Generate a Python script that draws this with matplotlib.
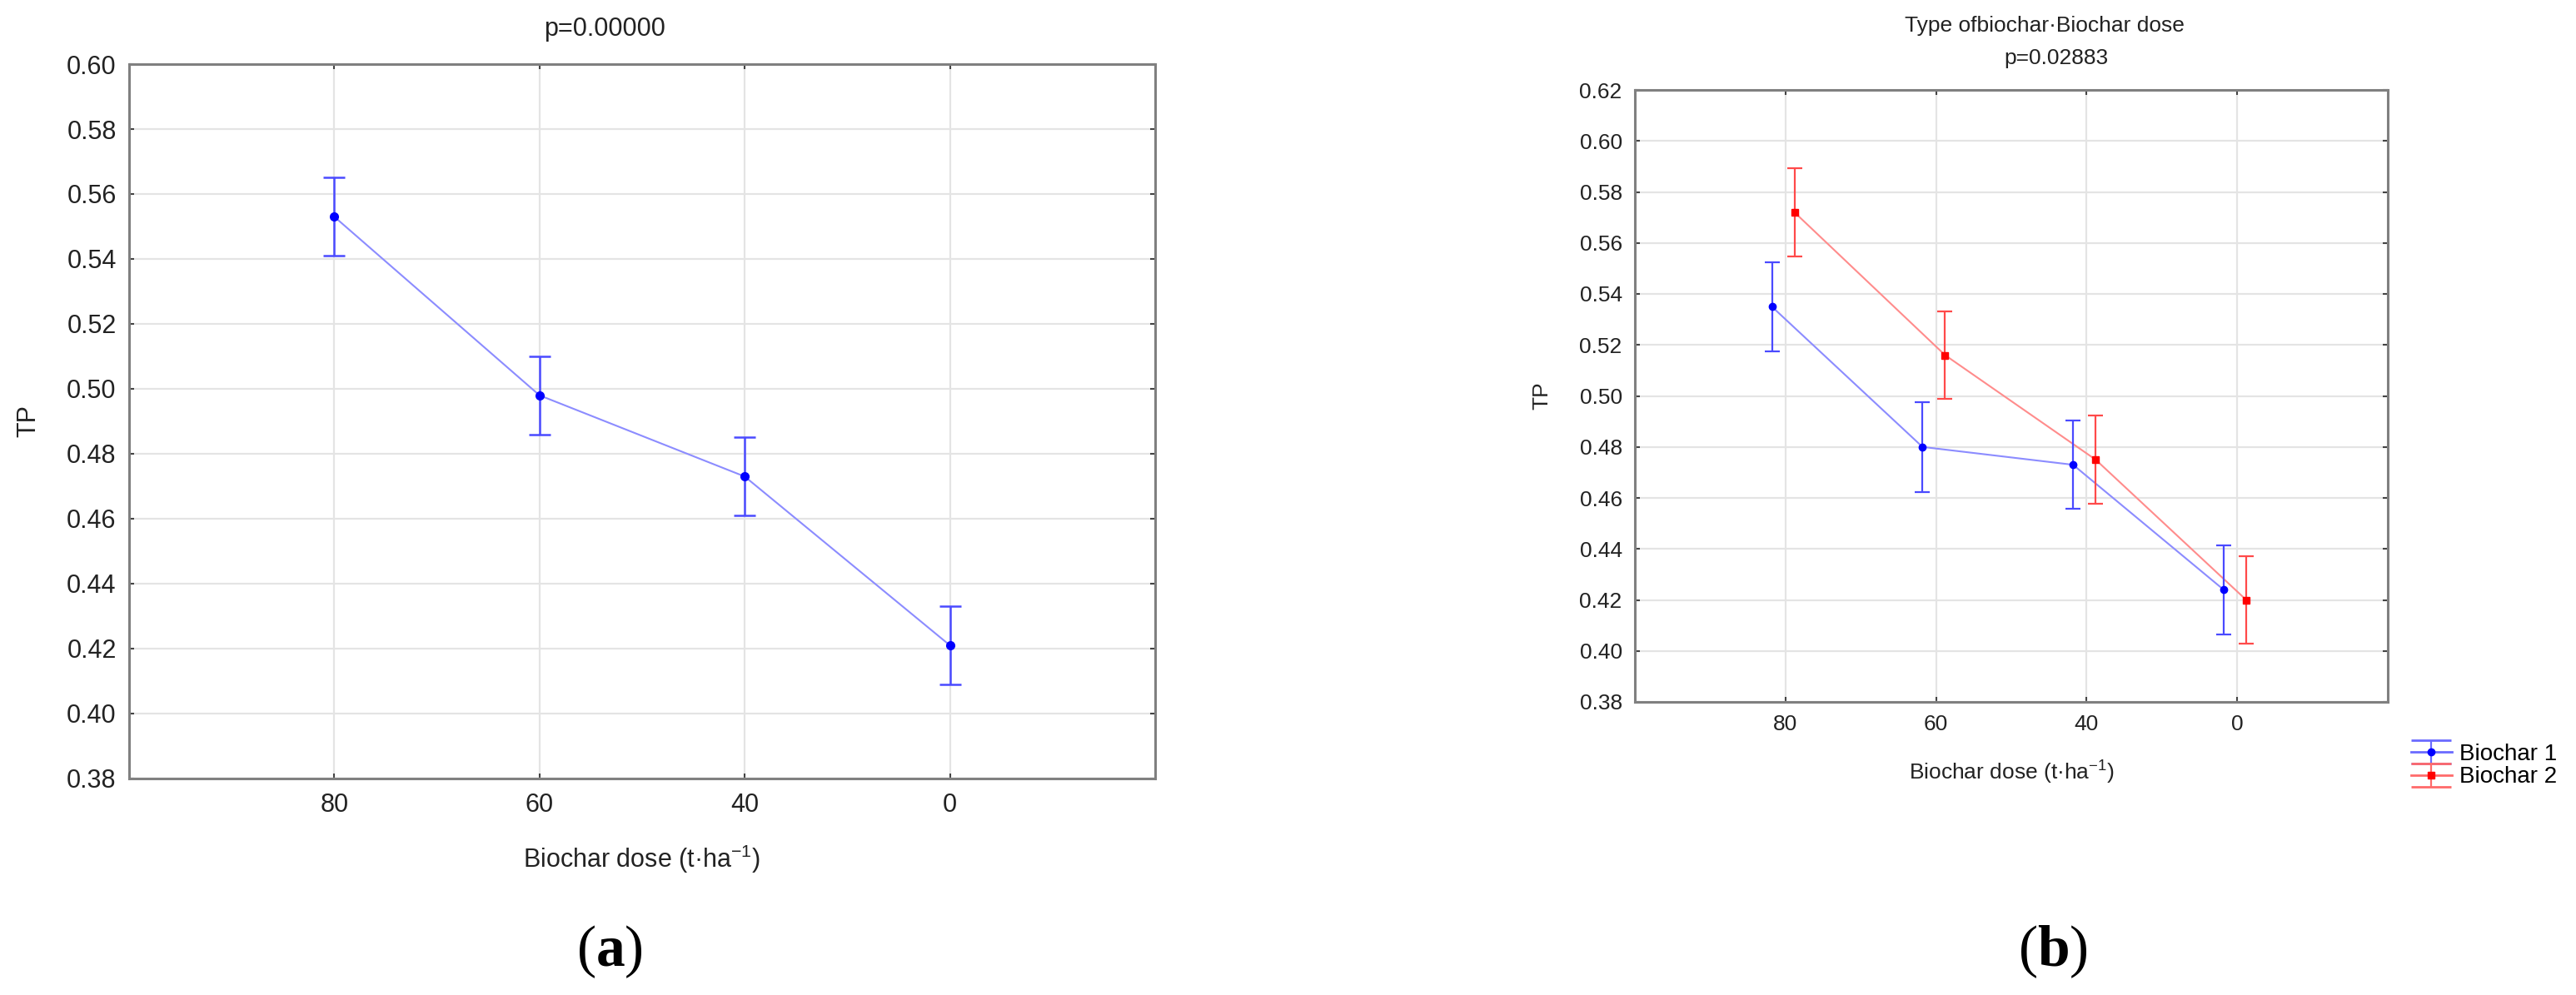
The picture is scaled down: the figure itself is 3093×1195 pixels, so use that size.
import numpy as np
import matplotlib
matplotlib.use("Agg")
import matplotlib.pyplot as plt

# --- data ---
dose_labels = ["80", "60", "40", "0"]

# (a) main effect of biochar dose
tp_a = [0.553, 0.498, 0.473, 0.421]
err_a = [0.012, 0.012, 0.012, 0.012]

# (b) type of biochar x biochar dose
tp_b1 = [0.535, 0.480, 0.473, 0.424]
err_b1 = [0.0175, 0.0177, 0.0174, 0.0175]
tp_b2 = [0.572, 0.516, 0.475, 0.420]
err_b2 = [0.0172, 0.0172, 0.0173, 0.0172]

series_names = ["Biochar 1", "Biochar 2"]

plt.rcParams['font.family'] = ['Liberation Sans', 'DejaVu Sans']
plt.rcParams['mathtext.fontset'] = 'custom'
plt.rcParams['mathtext.rm'] = 'Liberation Sans'
plt.rcParams['mathtext.it'] = 'Liberation Sans:italic'
plt.rcParams['mathtext.bf'] = 'Liberation Serif:bold'

W, H = 3093, 1195
fig = plt.figure(figsize=(W / 100, H / 100), dpi=100)

TXT = '#222222'
BLUE_LINE = '#8c8cff'
BLUE_ERR = '#4a4aff'
RED_LINE = '#ff8c8c'
RED_ERR = '#ff4a4a'


def style_axes(ax, yticks, fs, xpad, ypad):
    x = np.arange(1, len(dose_labels) + 1)
    ax.set_xlim(0, 5)
    ax.set_xticks(x)
    ax.set_xticklabels(dose_labels)
    ax.set_yticks(yticks)
    ax.set_yticklabels([f"{v:.2f}" for v in yticks])
    ax.set_ylim(yticks[0], yticks[-1])
    ax.grid(True, color='#e4e4e4', linewidth=1.6, zorder=0)
    ax.set_axisbelow(True)
    for s in ax.spines.values():
        s.set_color('#808080')
        s.set_linewidth(2.2)
    ax.tick_params(axis='both', direction='in', length=4, width=1.5, color='#444444',
                   top=True, right=True, labelsize=fs, labelcolor=TXT)
    ax.tick_params(axis='x', pad=xpad)
    ax.tick_params(axis='y', pad=ypad)


# ---- panel (a) ----
ax1 = fig.add_axes([155 / W, 1 - 935 / H, 1232 / W, 858 / H])
x = np.arange(1, len(dose_labels) + 1)
ax1.plot(x, tp_a, color=BLUE_LINE, lw=1.5, zorder=3)
ax1.errorbar(x, tp_a, yerr=err_a, fmt='o', color='#0000ff', ms=7,
             ecolor=BLUE_ERR, elinewidth=1.8, capsize=9.5, capthick=1.8, zorder=4)
style_axes(ax1, np.round(np.arange(0.38, 0.6001, 0.02), 2), 22, 12, 11)
ax1.set_ylabel("TP", fontsize=22, color=TXT, labelpad=22)
ax1.set_xlabel("Biochar dose (t·ha$^{-1}$)", fontsize=22, color=TXT, labelpad=22)
fig.text(726 / W, 1 - 35 / H, "p=0.00000", ha='center', va='center', fontsize=22, color=TXT)

# ---- panel (b) ----
ax2 = fig.add_axes([1963 / W, 1 - 843 / H, 904 / W, 735 / H])
off1, off2 = -0.09, 0.06
ax2.plot(x + off1, tp_b1, color=BLUE_LINE, lw=1.5, zorder=3)
ax2.plot(x + off2, tp_b2, color=RED_LINE, lw=1.5, zorder=3)
ax2.errorbar(x + off1, tp_b1, yerr=err_b1, fmt='o', color='#0000ff', ms=6,
             ecolor=BLUE_ERR, elinewidth=1.6, capsize=6.5, capthick=1.6, zorder=4)
ax2.errorbar(x + off2, tp_b2, yerr=err_b2, fmt='s', color='#ff0000', ms=6,
             ecolor=RED_ERR, elinewidth=1.6, capsize=6.5, capthick=1.6, zorder=4)
style_axes(ax2, np.round(np.arange(0.38, 0.6201, 0.02), 2), 19, 11, 11)
ax2.set_ylabel("TP", fontsize=19, color=TXT, labelpad=24)
ax2.set_xlabel("Biochar dose (t·ha$^{-1}$)", fontsize=19, color=TXT, labelpad=21)
fig.text(2455 / W, 1 - 31 / H, "Type ofbiochar·Biochar dose", ha='center', va='center',
         fontsize=19, color=TXT)
fig.text(2469 / W, 1 - 70 / H, "p=0.02883", ha='center', va='center', fontsize=19, color=TXT)

# legend handles: wide caps like the Statistica legend
proxy_ax = fig.add_axes([0, 0, 0.01, 0.01])
proxy_ax.set_visible(False)
h1 = proxy_ax.errorbar([0], [0], yerr=[1], fmt='o', color='#0000ff', ms=6,
                       ecolor='#6a6aff', elinewidth=1.6, capsize=17, capthick=2,
                       label=series_names[0])
h2 = proxy_ax.errorbar([0], [0], yerr=[1], fmt='s', color='#ff0000', ms=6,
                       ecolor='#ff6a6a', elinewidth=1.6, capsize=17, capthick=2,
                       label=series_names[1])
for h, c, m in [(h1, '#6a6aff', '#0000ff'), (h2, '#ff6a6a', '#ff0000')]:
    h.lines[0].set_linestyle('-')
    h.lines[0].set_color(c)
    h.lines[0].set_markerfacecolor(m)
    h.lines[0].set_markeredgecolor(m)
    h.lines[0].set_linewidth(2)

fig.legend(handles=[h1, h2], loc='upper left', bbox_to_anchor=(2895 / W, 1 - 893 / H),
           frameon=False, fontsize=20, handlelength=1.75, handletextpad=0.35,
           labelspacing=0.05, borderaxespad=0, borderpad=0)

# ---- panel letters ----
for xc, letter in [(732, 'a'), (2465, 'b')]:
    fig.text(xc / W, 1 - 1143 / H, "($\\mathbf{" + letter + "}$)", ha='center', va='center',
             fontsize=50, family='Liberation Serif', color='black')

fig.savefig("out.png", dpi=100, facecolor='white')
